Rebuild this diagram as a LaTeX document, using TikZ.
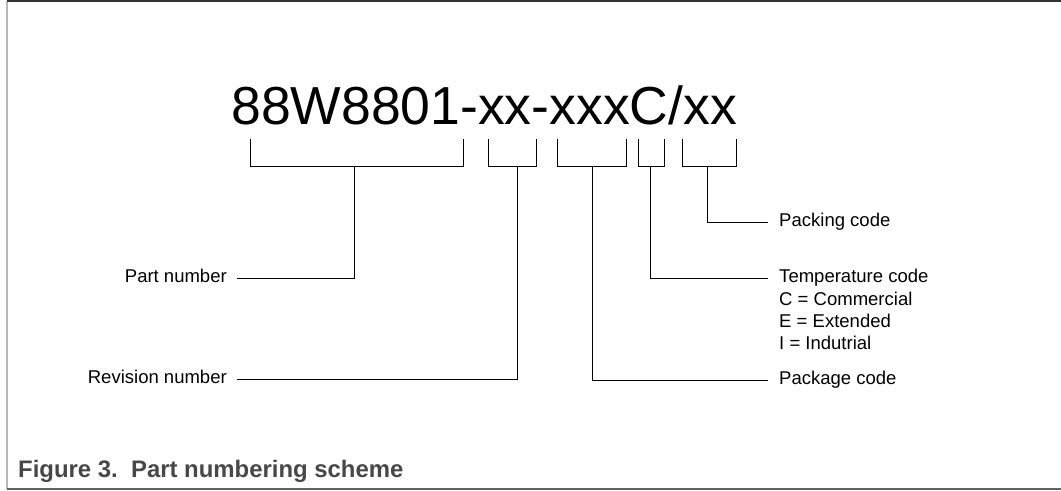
\documentclass[tikz,border=0pt]{standalone}
\usepackage{fontspec}
\setmainfont{Liberation Sans}
\usetikzlibrary{calc}
\definecolor{MyDarkGrey}{rgb}{0.2,0.2,0.2}
\definecolor{MyCaptionGrey}{rgb}{0.28,0.28,0.28}
\definecolor{MyFrameGrey}{rgb}{0.38,0.38,0.38}
\definecolor{MyLightGrey}{rgb}{0.72,0.72,0.72}

\begin{document}
\begin{tikzpicture}[x=0.03cm, y=-0.03cm]
  \tikzstyle{every node}=[font=\fontsize{15.8}{19}\selectfont, inner sep=0pt]
  \tikzstyle{lead}=[draw=black, line width=0.8pt]
  \tikzstyle{left label}=[anchor=east, inner xsep=0.3cm, text height=1.4ex, text depth=0pt]
  \tikzstyle{right label}=[anchor=west, inner xsep=0.33cm, text height=1.4ex, text depth=0pt]
  \useasboundingbox (0,0) rectangle (1061,490);
  % frame, open on the right
  \draw[MyLightGrey, line width=1.2pt] (7,1) -- (7,489);
  \draw[MyFrameGrey, line width=1pt] (7,489) -- (1061,489);
  \draw[MyDarkGrey, line width=1.2pt] (7,1) -- (1061,1);
  % the number itself
  \node[anchor=base west, font=\fontsize{45.7}{50}\selectfont] (number) at (231,124) {88W8801-xx-xxxC/xx};
  % brackets under each field
  \foreach \l/\r/\s/\n in {250/463/354/part, 488/536/517/rev, 557/626/592/pkg, 638/664/650/temp, 682/736/707/pack}{
    \draw[lead] (\l,139) |- (\r,166) -- (\r,139);
    \coordinate (\n) at (\s,166);
  }
  % labels
  \node[left label] (partlbl) at (237,278) {Part number};
  \node[left label] (revlbl) at (237,379) {Revision number};
  \node[right label] (packlbl) at (768,222) {Packing code};
  \node[right label] (templbl) at (768,278) {Temperature code};
  \node[anchor=north west, align=left] (tempvals) at (779,291.5) {C = Commercial\\E = Extended\\I = Indutrial};
  \node[right label] (pkglbl) at (768,380) {Package code};
  % leads
  \draw[lead] (part) |- (partlbl);
  \draw[lead] (rev) |- (revlbl);
  \draw[lead] (pkg) |- (pkglbl);
  \draw[lead] (temp) |- (templbl);
  \draw[lead] (pack) |- (packlbl);
  % caption
  \node[anchor=base west, font=\fontsize{20.4}{24}\selectfont\bfseries, text=MyCaptionGrey] (caption) at (18,477) {Figure 3.\ \ Part numbering scheme};
\end{tikzpicture}
\end{document}
